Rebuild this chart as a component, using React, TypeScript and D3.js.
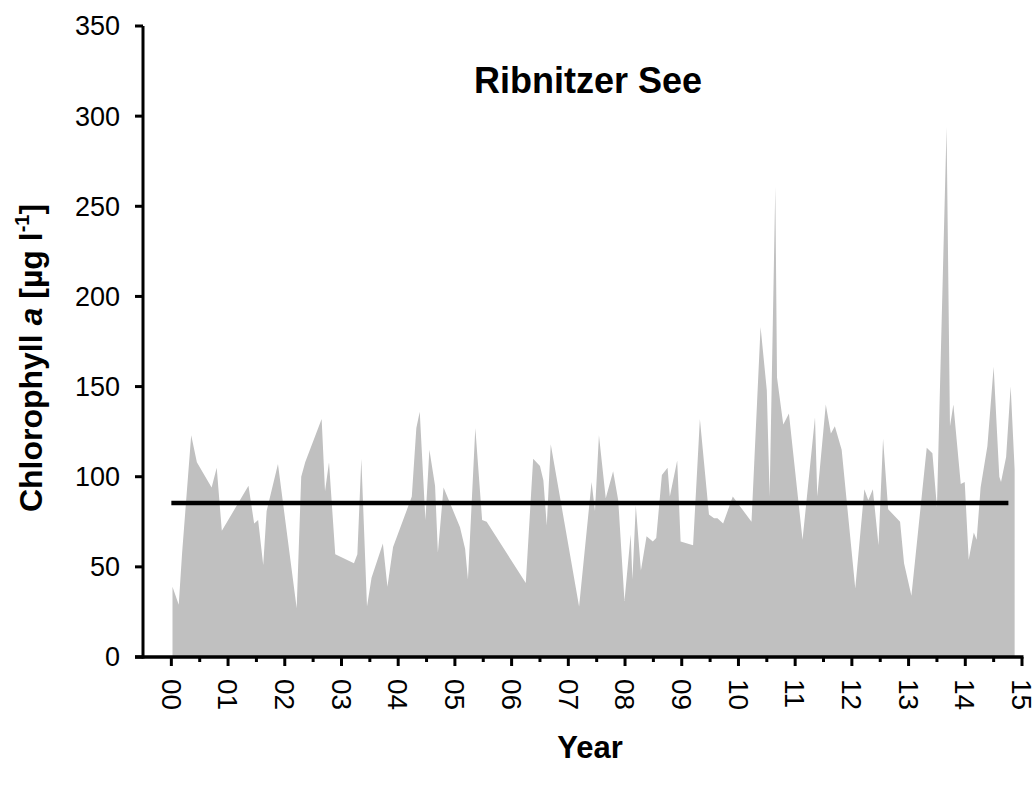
import React from "react";
import * as d3 from "d3";

// Sampling dates as decimal years since 2000, and chlorophyll a (µg/l) per sample
const sampleYears = [
  0.02, 0.13, 0.19, 0.35, 0.45, 0.71, 0.8, 0.89, 1.36, 1.46, 1.53, 1.62, 1.68, 1.88,
  2.21, 2.29, 2.36, 2.65, 2.71, 2.78, 2.89, 3.22, 3.28, 3.35, 3.45, 3.53, 3.73, 3.81,
  3.91, 4.24, 4.32, 4.38, 4.48, 4.55, 4.65, 4.7, 4.8, 5.09, 5.18, 5.23, 5.36, 5.48,
  5.56, 6.25, 6.38, 6.5, 6.56, 6.62, 6.69, 7.19, 7.41, 7.47, 7.54, 7.66, 7.79, 7.88,
  7.99, 8.1, 8.13, 8.19, 8.28, 8.38, 8.49, 8.55, 8.65, 8.75, 8.79, 8.92, 8.98, 9.2,
  9.32, 9.48, 9.57, 9.63, 9.73, 9.9, 10.23, 10.39, 10.5, 10.55, 10.65, 10.68, 10.79,
  10.89, 11.13, 11.35, 11.39, 11.54, 11.63, 11.7, 11.82, 12.06, 12.22, 12.29, 12.37,
  12.47, 12.55, 12.64, 12.85, 12.92, 13.05, 13.32, 13.42, 13.5, 13.67, 13.73, 13.79,
  13.92, 13.99, 14.06, 14.15, 14.2, 14.27, 14.39, 14.5, 14.6, 14.63, 14.72, 14.8, 14.87,
];

const chlorophyll = [
  39, 29, 58, 123, 108, 94, 105, 70, 95, 74, 76, 51, 81, 107,
  27, 100, 108, 132, 92, 108, 57, 52, 57, 110, 28, 44, 63, 39,
  61, 89, 127, 136, 76, 115, 95, 58, 94, 72, 60, 43, 127, 76,
  75, 41, 110, 106, 98, 73, 118, 28, 97, 81, 123, 88, 103, 87,
  31, 68, 43, 84, 48, 67, 64, 66, 101, 105, 89, 109, 64, 62,
  132, 79, 77, 77, 74, 89, 75, 183, 148, 89, 261, 155, 129,
  135, 65, 133, 89, 140, 124, 128, 115, 38, 93, 87, 93,
  62, 121, 82, 75, 52, 34, 116, 113, 83, 294, 128, 140,
  96, 97, 54, 69, 65, 94, 117, 161, 100, 97, 111, 150, 104,
];

// Long-term mean and the period it is drawn over
const meanValue = 85.4;
const meanPeriod = [0, 14.76];

const yearTicks = d3.range(0, 16);
const halfYearTicks = d3.range(0.5, 15, 1);
const valueTicks = d3.range(0, 351, 50);

const FONT = "'Liberation Sans', Arial, Helvetica, sans-serif";

export default function App() {
  const width = 1036;
  const height = 785;

  const x = d3.scaleLinear().domain([-0.5, 15]).range([143, 1022]);
  const y = d3.scaleLinear().domain([0, 350]).range([657, 26]);

  const series = sampleYears.map((t, i) => [t, chlorophyll[i]] as [number, number]);
  const area = d3
    .area<[number, number]>()
    .x((d) => x(d[0]))
    .y0(y(0))
    .y1((d) => y(d[1]));

  const axisY = y(0);
  const axisX = x(-0.5);
  const fmt = d3.format("02d");

  return (
    <svg
      width={width}
      height={height}
      style={{ position: "absolute", left: 0, top: 0, background: "#fff" }}
      fontFamily={FONT}
    >
      <path d={area(series) || ""} fill="#c0c0c0" />

      <line
        x1={x(meanPeriod[0])}
        x2={x(meanPeriod[1])}
        y1={y(meanValue)}
        y2={y(meanValue)}
        stroke="#000"
        strokeWidth={4.5}
      />

      {/* y axis */}
      <line x1={axisX} x2={axisX} y1={y(350)} y2={axisY + 1.5} stroke="#000" strokeWidth={3} />
      {valueTicks.map((v) => (
        <g key={`yt${v}`}>
          <line x1={axisX - 8} x2={axisX} y1={y(v)} y2={y(v)} stroke="#000" strokeWidth={3} />
          <text x={120} y={y(v)} dy="0.35em" textAnchor="end" fontSize={27} fill="#000">
            {v}
          </text>
        </g>
      ))}

      {/* x axis */}
      <line x1={axisX - 8} x2={x(15) + 1.5} y1={axisY} y2={axisY} stroke="#000" strokeWidth={3.5} />
      {halfYearTicks.map((t) => (
        <line key={`mt${t}`} x1={x(t)} x2={x(t)} y1={axisY} y2={axisY + 5} stroke="#000" strokeWidth={3} />
      ))}
      {yearTicks.map((t) => (
        <g key={`xt${t}`}>
          <line x1={x(t)} x2={x(t)} y1={axisY} y2={axisY + 9} stroke="#000" strokeWidth={3} />
          <text
            transform={`translate(${x(t)},${axisY + 22}) rotate(90)`}
            dy="0.35em"
            textAnchor="start"
            fontSize={28}
            fill="#000"
          >
            {fmt(t)}
          </text>
        </g>
      ))}

      {/* titles */}
      <text x={588} y={93} textAnchor="middle" fontSize={36} fontWeight="bold" fill="#000">
        Ribnitzer See
      </text>
      <text x={590} y={758} textAnchor="middle" fontSize={31} fontWeight="bold" fill="#000">
        Year
      </text>
      <text
        transform="translate(42,358) rotate(-90)"
        textAnchor="middle"
        fontSize={32}
        fontWeight="bold"
        fill="#000"
      >
        Chlorophyll <tspan fontStyle="italic">a</tspan> [µg l
        <tspan fontSize={20} dy={-13}>-1</tspan>
        <tspan dy={13}>]</tspan>
      </text>
    </svg>
  );
}
